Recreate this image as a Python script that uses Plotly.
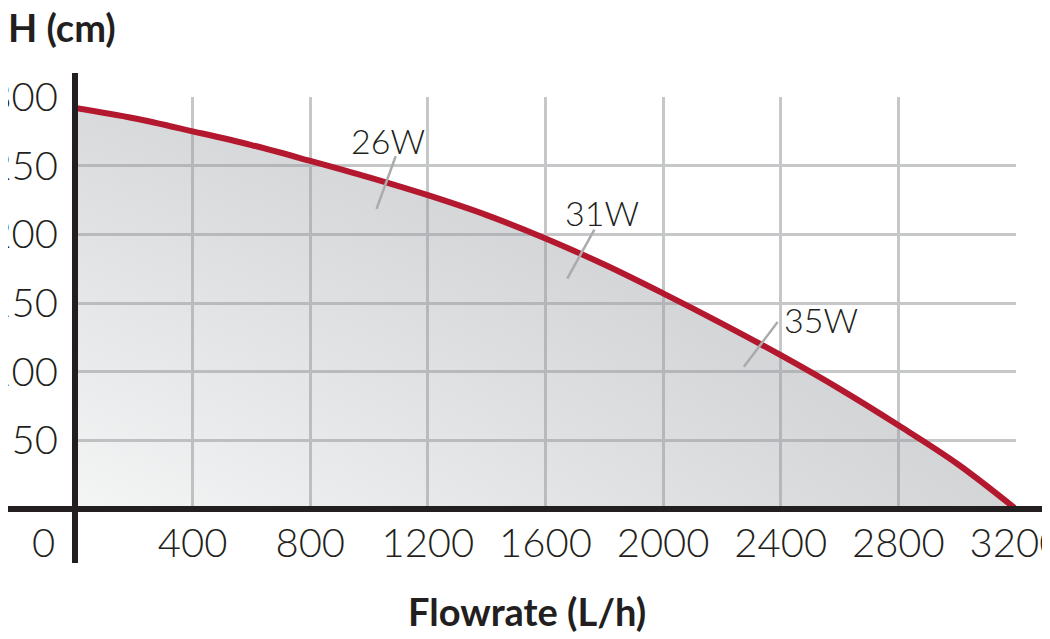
import numpy as np
import plotly.graph_objects as go

# ---- data ----
flow = [0, 200, 400, 600, 800, 1000, 1200, 1400, 1600, 1800,
        2000, 2200, 2400, 2600, 2800, 3000, 3200]
head = [292, 284.5, 275, 265, 253.5, 241.5, 228.5, 214, 197, 178,
        157, 135, 112, 87.5, 61, 33, 0]

x_ticks = [400, 800, 1200, 1600, 2000, 2400, 2800, 3200]
x_tick_labels = ["400", "800", "1200", "1600", "2000", "2400", "2800", "3200"]
y_ticks = [50, 100, 150, 200, 250, 300]
y_tick_labels = ["50", "100", "150", "200", "250", "300"]

power_labels = ["26W", "31W", "35W"]
power_flow = [1058, 1720, 2332]

# ---- styling ----
RED = "#b3182e"
INK = "#231f20"
GRID = "#c6c7c8"
FONT = "Lato"
tick_angles = [20, 29, 37]
label_shifts = [(2, 42), (21, 42), (60, 25)]

power_head = list(np.interp(power_flow, flow, head))

fig = go.Figure()

# base fill with horizontal gradient
fig.add_trace(go.Scatter(
    x=flow, y=head, mode="none", fill="tozeroy", line=dict(shape="spline"),
    fillgradient=dict(type="horizontal",
                      colorscale=[[0, "rgba(150,155,160,0.10)"], [1, "rgba(150,155,160,0.42)"]]),
    hoverinfo="skip", showlegend=False))
# vertical darkening toward the top
fig.add_trace(go.Scatter(
    x=flow, y=head, mode="none", fill="tozeroy", line=dict(shape="spline"),
    fillgradient=dict(type="vertical",
                      colorscale=[[0, "rgba(150,155,160,0.0)"], [1, "rgba(150,155,160,0.30)"]]),
    hoverinfo="skip", showlegend=False))

# pump curve
fig.add_trace(go.Scatter(
    x=flow, y=head, mode="lines", line=dict(color=RED, width=6, shape="spline"),
    showlegend=False))

# power tick marks on curve
fig.add_trace(go.Scatter(
    x=power_flow, y=power_head, mode="markers",
    marker=dict(symbol="line-ns", size=40, angle=tick_angles,
                line=dict(color="#a9abad", width=2.5)),
    showlegend=False, hoverinfo="skip"))

for lab, fx, fy, (dx, dy) in zip(power_labels, power_flow, power_head, label_shifts):
    fig.add_annotation(x=fx, y=fy, text=lab, showarrow=False, xshift=dx, yshift=dy,
                       font=dict(family=FONT, size=34, color=INK, weight=300))

# "0" origin label
fig.add_annotation(x=0, y=0, text="0", showarrow=False, xanchor="right",
                   xshift=-18, yshift=-33,
                   font=dict(family=FONT, size=40, color=INK, weight=300))

# axis titles
fig.add_annotation(xref="paper", yref="paper", x=-0.073, y=1.17, text="<b>H (cm)</b>",
                   showarrow=False, xanchor="left", yanchor="middle",
                   font=dict(family=FONT, size=38, color=INK))
fig.add_annotation(xref="paper", yref="paper", x=0.48, y=-0.2476, text="<b>Flowrate (L/h)</b>",
                   showarrow=False, xanchor="center", yanchor="middle",
                   font=dict(family=FONT, size=38, color=INK))

# heavy axis lines
fig.add_shape(type="line", xref="paper", yref="paper", x0=0, x1=0, y0=-0.131, y1=1.058,
              line=dict(color=INK, width=6), layer="above")
fig.add_shape(type="line", xref="paper", yref="paper", x0=-0.08, x1=1.034, y0=0, y1=0,
              line=dict(color=INK, width=6), layer="above")

fig.update_xaxes(range=[0, 3200], tickvals=x_ticks, ticktext=x_tick_labels,
                 showgrid=True, gridcolor=GRID, gridwidth=2.5, zeroline=False,
                 showline=False, ticks="", ticklabelstandoff=7, ticklabeloverflow="allow",
                 tickfont=dict(family=FONT, size=40, color=INK, weight=300))
fig.update_yaxes(range=[0, 300], tickvals=y_ticks, ticktext=y_tick_labels,
                 showgrid=True, gridcolor=GRID, gridwidth=2.5, zeroline=False,
                 showline=False, ticks="", ticklabelstandoff=16, ticklabeloverflow="allow",
                 tickfont=dict(family=FONT, size=40, color=INK, weight=300))

# page body adds an 8px offset; margins compensate so the plot area lands where the reference has it
fig.update_layout(width=1050, height=639, paper_bgcolor="white", plot_bgcolor="white",
                  margin=dict(l=67, r=42, t=89, b=138, autoexpand=False),
                  font=dict(family=FONT, color=INK))

fig.write_html("out.html")
